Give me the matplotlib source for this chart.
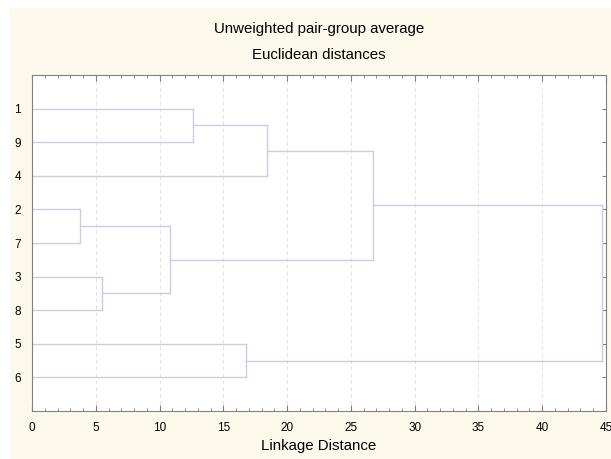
import matplotlib.pyplot as plt
from matplotlib.patches import Rectangle
from matplotlib.ticker import MultipleLocator

plt.rcParams['font.family'] = ['Liberation Sans', 'DejaVu Sans']

# leaf order top to bottom
leaves = ['1', '9', '4', '2', '7', '3', '8', '5', '6']
# merges: (left node, right node, linkage distance); clusters named c0, c1, ...
merges = [
    ('2', '7', 3.8),
    ('3', '8', 5.5),
    ('1', '9', 12.6),
    ('5', '6', 16.8),
    ('c2', '4', 18.4),
    ('c0', 'c1', 10.8),
    ('c4', 'c5', 26.7),
    ('c6', 'c3', 44.7),
]

fig = plt.figure(figsize=(6.11, 4.59), dpi=100)
fig.patch.set_facecolor('white')
fig.patches.append(Rectangle((10 / 611, 0), 601 / 611, 451 / 459, transform=fig.transFigure,
                             facecolor='#fdf8ec', edgecolor='none', zorder=-10))

ax = fig.add_axes([32 / 611, 48 / 459, 574 / 611, 336 / 459])
ax.set_facecolor('white')

lc = '#c9cde9'
pos = {name: i + 1 for i, name in enumerate(leaves)}
height = {name: 0.0 for name in leaves}
for k, (a, b, h) in enumerate(merges):
    ya, yb = pos[a], pos[b]
    ax.plot([height[a], h], [ya, ya], color=lc, lw=1)
    ax.plot([height[b], h], [yb, yb], color=lc, lw=1)
    ax.plot([h, h], [ya, yb], color=lc, lw=1)
    pos['c%d' % k] = (ya + yb) / 2
    height['c%d' % k] = h

ax.set_xlim(0, 45)
ax.set_ylim(10, 0)
ax.set_yticks(range(1, 10))
ax.set_yticklabels(leaves)
ax.xaxis.set_major_locator(MultipleLocator(5))
ax.xaxis.set_minor_locator(MultipleLocator(1))
ax.tick_params(axis='x', which='both', direction='in', top=True, color='#808080',
               labelsize=8.5, pad=8)
ax.tick_params(axis='x', which='major', length=4)
ax.tick_params(axis='x', which='minor', length=2.5)
ax.tick_params(axis='y', direction='in', right=True, left=False, color='#808080',
               labelsize=8.5, length=3, pad=8)
ax.grid(axis='x', which='major', color='#e2e2e2', ls=(0, (4, 3)), lw=0.7)
ax.set_axisbelow(True)
for s in ax.spines.values():
    s.set_color('#808080')
    s.set_linewidth(0.8)

cx = 319 / 611
fig.text(cx, 1 - 446 / 459, 'Linkage Distance', ha='center', va='center', fontsize=10.8)
fig.text(cx, 1 - 29 / 459, 'Unweighted pair-group average', ha='center', va='center', fontsize=10.8)
fig.text(cx, 1 - 55 / 459, 'Euclidean distances', ha='center', va='center', fontsize=10.8)

fig.savefig('out.png', dpi=100)
